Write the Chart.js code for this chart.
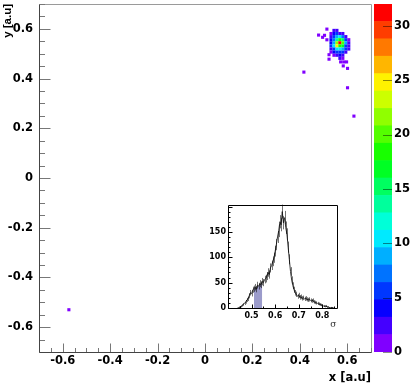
<!DOCTYPE html>
<html lang="en">
<head>
<meta charset="UTF-8">
<title>Position map with sigma inset</title>
<style>
  body { margin: 0; background: #ffffff; }
  #wrap { position: relative; width: 413px; height: 387px; }
  #wrap canvas { position: absolute; }
  #mainChart { left: 0; top: 0; }
  #paletteChart { left: 374px; top: 0; }
  #insetChart { left: 200px; top: 198px; }
</style>
</head>
<body>
<div id="wrap">
  <canvas id="mainChart" width="413" height="387"></canvas>
  <canvas id="paletteChart" width="39" height="387"></canvas>
  <canvas id="insetChart" width="145" height="134"></canvas>
</div>

<script src="https://cdn.jsdelivr.net/npm/chart.js"></script>
<script>
// ---- main map ----
const xTicks = [-0.6, -0.4, -0.2, 0, 0.2, 0.4, 0.6];
const yTicks = [-0.6, -0.4, -0.2, 0, 0.2, 0.4, 0.6];

// dense spot, bin centres (bin width 0.0125)
const spotX = [0.5313, 0.5438, 0.5563, 0.5688, 0.5813, 0.5938, 0.6063];
const spotY = [0.5938, 0.5813, 0.5688, 0.5563, 0.5438, 0.5313, 0.5188, 0.5063, 0.4938, 0.4813];
const spotCounts = [
    [0, 3, 2, 0, 0, 0, 0],
    [1, 4, 5, 3, 2, 0, 0],
    [3, 6, 8, 11, 7, 3, 0],
    [4, 7, 13, 18, 15, 6, 1],
    [4, 8, 21, 31, 20, 8, 2],
    [5, 11, 24, 19, 16, 6, 3],
    [2, 6, 11, 10, 8, 5, 2],
    [1, 4, 5, 6, 5, 2, 0],
    [0, 1, 3, 4, 3, 0, 0],
    [0, 0, 0, 2, 1, 0, 0]
];

// single hits away from the spot
const strayX = [0.417, 0.601, 0.628, 0.514, 0.479, 0.496, 0.504, 0.514, 0.523, 0.523, 0.572, 0.585, 0.597, 0.583, 0.601, -0.574];
const strayY = [0.426, 0.363, 0.249, 0.599, 0.575, 0.566, 0.574, 0.556, 0.496, 0.478, 0.467, 0.467, 0.467, 0.451, 0.441, -0.530];

// colour scale
const zMax = 32;
const zTicks = [0, 5, 10, 15, 20, 25, 30];
const zColours = ['#8000ff', '#4400ff', '#0700ff', '#0037ff', '#0073ff', '#00afff', '#00eaff',
    '#00ffd8', '#00ff9c', '#00ff60', '#00ff24', '#18ff00', '#54ff00', '#90ff00', '#ccff00',
    '#fff200', '#ffb600', '#ff7900', '#ff3d00', '#ff0000'];

// ---- inset: sigma distribution ----
const sigmaBins = [0.440, 0.445, 0.450, 0.455, 0.460, 0.465, 0.470, 0.475, 0.480, 0.485,
    0.490, 0.495, 0.500, 0.505, 0.510, 0.515, 0.520, 0.525, 0.530, 0.535,
    0.540, 0.545, 0.550, 0.555, 0.560, 0.565, 0.570, 0.575, 0.580, 0.585,
    0.590, 0.595, 0.600, 0.605, 0.610, 0.615, 0.620, 0.625, 0.630, 0.635,
    0.640, 0.645, 0.650, 0.655, 0.660, 0.665, 0.670, 0.675, 0.680, 0.685,
    0.690, 0.695, 0.700, 0.705, 0.710, 0.715, 0.720, 0.725, 0.730, 0.735,
    0.740, 0.745, 0.750, 0.755, 0.760, 0.765, 0.770, 0.775, 0.780, 0.785,
    0.790, 0.795, 0.800, 0.805, 0.810, 0.815, 0.820, 0.825, 0.830, 0.835,
    0.840, 0.845, 0.850];
const sigmaCounts = [0, 1, 2, 3, 5, 7, 9, 12, 16, 18,
    24, 30, 28, 36, 38, 41, 37, 45, 43, 48,
    46, 52, 50, 56, 58, 63, 70, 66, 79, 84,
    92, 99, 112, 125, 140, 152, 170, 164, 190, 168,
    178, 158, 145, 120, 96, 72, 55, 44, 36, 30,
    27, 23, 25, 21, 22, 19, 20, 18, 19, 17,
    16, 17, 15, 14, 15, 12, 11, 10, 9, 8,
    7, 6, 5, 4, 3, 4, 2, 2, 1, 1,
    1, 0, 0];
const shadeFrom = 0.51;
const shadeTo = 0.545;
const insetXTicks = [0.5, 0.6, 0.7, 0.8];
const insetYTicks = [0, 50, 100, 150];

Chart.defaults.font.family = 'DejaVu Sans';
Chart.defaults.color = '#000';

function colourFor(v) {
    const step = zMax / zColours.length;
    return zColours[Math.min(zColours.length - 1, Math.floor(v / step))];
}

// build hit list
const hits = [];
spotCounts.forEach((row, r) => {
    row.forEach((n, c) => {
        if (n > 0) hits.push({ x: spotX[c], y: spotY[r], v: n });
    });
});
strayX.forEach((x, i) => hits.push({ x: x, y: strayY[i], v: 1 }));

// fix the box size of an axis so the plot frame lands where it should
function fixSize(size) {
    return function(scale) {
        if (scale.isHorizontal()) scale.height = size; else scale.width = size;
        scale.paddingTop = 0; scale.paddingBottom = 0;
        scale.paddingLeft = 0; scale.paddingRight = 0;
    };
}
function useTicks(list) {
    return function(scale) { scale.ticks = list.map(v => ({ value: v })); };
}
const fmt = v => String(Math.round(v * 10) / 10);

// ticks drawn inside the frame, ROOT style
function axisTicks(ctx, scale, edge, minor, major, lenMajor, lenMinor) {
    const n = Math.round((scale.max - scale.min) / minor);
    for (let i = 0; i <= n; i++) {
        const v = scale.min + i * minor;
        const isMajor = Math.abs(v / major - Math.round(v / major)) < 1e-6;
        const len = isMajor ? lenMajor : lenMinor;
        const p = Math.round(scale.getPixelForValue(v)) + 0.5;
        if (scale.isHorizontal()) {
            ctx.moveTo(p, edge); ctx.lineTo(p, edge - len);
        } else {
            ctx.moveTo(edge, p); ctx.lineTo(edge + len, p);
        }
    }
}

const frameTicks = {
    id: 'frameTicks',
    afterDraw(chart, args, o) {
        const { ctx, chartArea: a, scales } = chart;
        const L = Math.round(a.left) + 0.5, R = Math.round(a.right) + 0.5;
        const T = Math.round(a.top) + 0.5, B = Math.round(a.bottom) + 0.5;
        ctx.save();
        ctx.lineWidth = 1;
        ctx.strokeStyle = o.frameColor;
        ctx.beginPath();
        ctx.moveTo(L, T); ctx.lineTo(R, T); ctx.lineTo(R, B);
        ctx.stroke();
        ctx.strokeStyle = o.tickColor;
        ctx.beginPath();
        axisTicks(ctx, scales.x, B, o.xMinor, o.xMajor, o.xLen, o.xLen / 2);
        axisTicks(ctx, scales.y, L, o.yMinor, o.yMajor, o.yLen, o.yLen / 2);
        ctx.stroke();
        ctx.strokeStyle = o.axisColor;
        ctx.beginPath();
        ctx.moveTo(L, T); ctx.lineTo(L, B); ctx.lineTo(R, B);
        ctx.stroke();
        ctx.restore();
    }
};

// statistical error bars on the inset histogram
const errorBars = {
    id: 'errorBars',
    afterDatasetsDraw(chart) {
        const { ctx, scales } = chart;
        ctx.save();
        ctx.strokeStyle = 'rgba(0,0,0,0.55)';
        ctx.lineWidth = 1;
        ctx.beginPath();
        sigmaBins.forEach((s, i) => {
            const n = sigmaCounts[i];
            if (n <= 0) return;
            const e = Math.sqrt(n);
            const px = Math.round(scales.x.getPixelForValue(s)) + 0.5;
            ctx.moveTo(px, scales.y.getPixelForValue(n - e));
            ctx.lineTo(px, scales.y.getPixelForValue(n + e));
        });
        ctx.stroke();
        ctx.restore();
    }
};

const paletteTicks = {
    id: 'paletteTicks',
    afterDraw(chart) {
        const { ctx, chartArea: a, scales } = chart;
        ctx.save();
        ctx.strokeStyle = 'rgba(0,0,0,0.45)';
        ctx.lineWidth = 1;
        ctx.beginPath();
        zTicks.forEach(v => {
            const p = Math.round(scales.y.getPixelForValue(v)) + 0.5;
            ctx.moveTo(a.right, p); ctx.lineTo(a.right - 9, p);
        });
        ctx.stroke();
        ctx.restore();
    }
};

const tickFont = { family: 'DejaVu Sans', weight: 'bold', size: 11.5 };

new Chart(document.getElementById('mainChart'), {
    type: 'scatter',
    data: {
        datasets: [{
            data: hits,
            pointStyle: 'rect',
            pointRadius: 2.2,
            borderWidth: 0,
            backgroundColor: c => colourFor(c.raw ? c.raw.v : 0)
        }]
    },
    options: {
        responsive: false,
        animation: false,
        devicePixelRatio: 1,
        layout: { padding: { top: 4, right: 42, left: 0, bottom: 0 } },
        plugins: {
            legend: { display: false },
            tooltip: { enabled: false },
            frameTicks: { frameColor: '#9a9a9a', axisColor: '#444', tickColor: '#777',
                xMinor: 0.05, xMajor: 0.2, xLen: 9,
                yMinor: 0.05, yMajor: 0.2, yLen: 11 }
        },
        scales: {
            x: {
                type: 'linear', min: -0.7, max: 0.7,
                afterBuildTicks: useTicks(xTicks),
                afterFit: fixSize(35),
                grid: { display: false, drawTicks: false },
                border: { display: false },
                ticks: { font: tickFont, padding: 2, maxRotation: 0, autoSkip: false, callback: fmt },
                title: { display: true, text: 'x [a.u]', align: 'end', font: tickFont, padding: { top: 0, bottom: 2 } }
            },
            y: {
                type: 'linear', min: -0.7, max: 0.7,
                afterBuildTicks: useTicks(yTicks),
                afterFit: fixSize(39),
                grid: { display: false, drawTicks: false },
                border: { display: false },
                ticks: { font: tickFont, padding: 6, autoSkip: false, callback: fmt },
                title: { display: true, text: 'y [a.u]', align: 'end',
                    font: { family: 'Liberation Sans', weight: 'bold', size: 11.5 }, padding: { top: 1, bottom: 0 } }
            }
        }
    },
    plugins: [frameTicks]
});

// colour bar as a stack of equal bands
new Chart(document.getElementById('paletteChart'), {
    type: 'bar',
    data: {
        labels: [''],
        datasets: zColours.map(c => ({
            data: [zMax / zColours.length],
            backgroundColor: c,
            borderWidth: 0,
            barPercentage: 1,
            categoryPercentage: 1
        }))
    },
    options: {
        responsive: false,
        animation: false,
        devicePixelRatio: 1,
        layout: { padding: { top: 4, bottom: 35, left: 0, right: 0 } },
        plugins: { legend: { display: false }, tooltip: { enabled: false } },
        scales: {
            x: { display: false, stacked: true },
            y: {
                position: 'right', stacked: true, min: 0, max: zMax,
                afterBuildTicks: useTicks(zTicks),
                afterFit: fixSize(21),
                grid: { display: false, drawTicks: false },
                border: { display: false },
                ticks: { font: tickFont, padding: 2, autoSkip: false }
            }
        }
    },
    plugins: [paletteTicks]
});

// inset histogram
const sigmaPoints = sigmaBins.map((s, i) => ({ x: s, y: sigmaCounts[i] }));
const shadePoints = sigmaPoints.filter(p => p.x >= shadeFrom - 1e-9 && p.x <= shadeTo + 1e-9);
const insetFont = { family: 'DejaVu Sans', weight: 'bold', size: 8 };

new Chart(document.getElementById('insetChart'), {
    type: 'line',
    data: {
        datasets: [
            { data: sigmaPoints, borderColor: '#333', borderWidth: 1, pointRadius: 0, fill: false, tension: 0 },
            { data: shadePoints, borderWidth: 0, pointRadius: 0, fill: 'origin', backgroundColor: '#9b9bcb' }
        ]
    },
    options: {
        responsive: false,
        animation: false,
        devicePixelRatio: 1,
        layout: { padding: { top: 7, right: 8.5, left: 0, bottom: 0 } },
        plugins: {
            legend: { display: false },
            tooltip: { enabled: false },
            frameTicks: { frameColor: '#000', axisColor: '#000', tickColor: '#000',
                xMinor: 0.05, xMajor: 0.1, xLen: 4,
                yMinor: 10, yMajor: 50, yLen: 4 }
        },
        scales: {
            x: {
                type: 'linear', min: 0.4, max: 0.86,
                afterBuildTicks: useTicks(insetXTicks),
                afterFit: fixSize(24),
                grid: { display: false, drawTicks: false },
                border: { display: false },
                ticks: { font: insetFont, padding: 3, maxRotation: 0, autoSkip: false, callback: fmt },
                title: { display: true, text: 'σ', align: 'end', color: '#333',
                    font: { family: 'DejaVu Serif', size: 9 }, padding: { top: 0, bottom: 1.5 } }
            },
            y: {
                type: 'linear', min: 0, max: 203,
                afterBuildTicks: useTicks(insetYTicks),
                afterFit: fixSize(28),
                grid: { display: false, drawTicks: false },
                border: { display: false },
                ticks: { font: insetFont, padding: 2, autoSkip: false }
            }
        }
    },
    plugins: [frameTicks, errorBars]
});
</script>
</body>
</html>
